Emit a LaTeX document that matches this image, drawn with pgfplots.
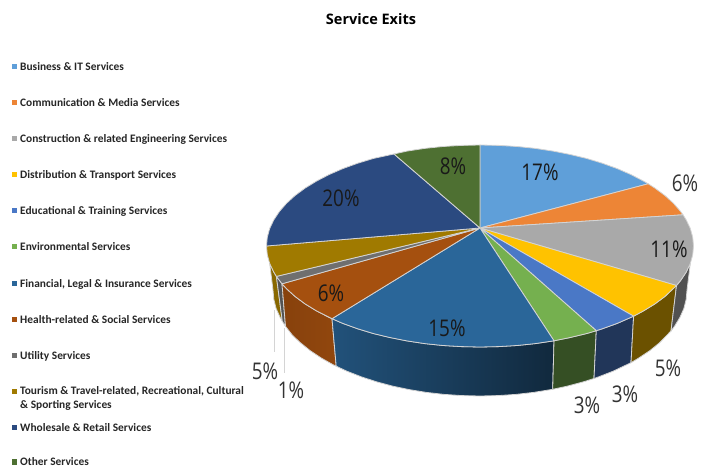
\documentclass[border=0pt]{standalone}
\usepackage{graphicx}
\usepackage{fontspec}
\setmainfont{Open Sans}
\newfontfamily\legfont{Carlito}
\usepackage{pgfplots}
\pgfplotsset{compat=1.18}
\definecolor{cBus}{HTML}{5F9FD9}
\definecolor{cCom}{HTML}{ED8536}
\definecolor{cCon}{HTML}{A9A9A9}
\definecolor{cDis}{HTML}{FFC200}
\definecolor{cEdu}{HTML}{4A78C6}
\definecolor{cEnv}{HTML}{75B04F}
\definecolor{cFin}{HTML}{2A6699}
\definecolor{cHea}{HTML}{A5500F}
\definecolor{cUti}{HTML}{6F6F6F}
\definecolor{cTou}{HTML}{A07A00}
\definecolor{cWho}{HTML}{2B4A80}
\definecolor{cOth}{HTML}{4E7032}
\definecolor{edge}{HTML}{D4D4D4}
\newcommand{\lab}[1]{\scalebox{.82}[1]{\fontsize{23}{23}\selectfont #1}}
\tikzset{leg/.style={inner sep=0pt, text=black!85, align=left, font=\fontsize{11.4}{14.2}\selectfont\legfont\bfseries}}
\begin{document}
\begin{tikzpicture}
\useasboundingbox (0,0) rectangle (713pt,468pt);
\begin{axis}[at={(0,0)}, anchor=south west, hide axis, scale only axis, width=713pt, height=468pt,
  xmin=0, xmax=713, ymin=0, ymax=468, y dir=reverse, clip=false,
  wedge/.style={draw=edge, line width=.8pt, line join=round}]
% leader lines
\addplot[draw=edge, line width=1pt] coordinates {(274,310) (274,352)};
\addplot[draw=edge, line width=1pt] coordinates {(284,328) (284,373)};
% sides
\addplot[wedge, fill=cTou!85!black] coordinates {(269.7,263.5)(273.8,272.1)(276.4,276.4)(282.3,321.2)(280.1,317.4)(276.1,308.4)(273.8,299.2)(273,290)} --cycle;
\addplot[wedge, fill=cUti!75!black] coordinates {(276.4,276.4)(282,283.8)(285.5,326.3)(282.3,321.2)} --cycle;
\addplot[wedge, left color=cHea!82!black, right color=cHea!88!black] coordinates {(282,283.8)(286.5,288.7)(295.1,296.5)(305.1,303.9)(316.5,310.9)(329,317.4)(332,318.7)(336.2,366.2)(333.6,365)(321.4,358.1)(310.4,350.8)(300.7,343)(292.4,335.2)(285.5,326.3)} --cycle;
\addplot[wedge, left color=cFin!80!black, right color=cFin!40!black] coordinates {(332,318.7)(342.8,323.4)(357.5,328.7)(373.2,333.5)(389.8,337.5)(407,340.9)(424.7,343.6)(442.9,345.5)(461.4,346.6)(480,347)(498.6,346.6)(517.1,345.5)(535.3,343.6)(554,340.8)(552.7,389.3)(533.6,392.4)(515.9,394.4)(498,395.6)(480,396)(462,395.6)(444.1,394.4)(426.4,392.4)(409.2,389.6)(392.5,386.1)(376.5,381.8)(361.3,376.8)(346.9,371.2)(336.2,366.2)} --cycle;
\addplot[wedge, fill=cEnv!45!black] coordinates {(554,340.8)(570.2,337.5)(586.8,333.5)(596.3,330.7)(594,378.5)(583.5,381.8)(567.5,386.1)(552.7,389.3)} --cycle;
\addplot[wedge, fill=cEdu!45!black] coordinates {(596.3,330.7)(602.5,328.7)(617.2,323.4)(633.6,316.2)(631,362.7)(613.1,371.2)(598.7,376.8)(594,378.5)} --cycle;
\addplot[wedge, fill=cDis!42!black] coordinates {(633.6,316.2)(643.5,310.9)(654.9,303.9)(664.9,296.5)(676.5,285.5)(671,331)(659.3,343)(649.6,350.8)(638.6,358.1)(631,362.7)} --cycle;
\addplot[wedge, fill=cCon!48!black] coordinates {(676.5,285.5)(680.6,280.5)(686.2,272.1)(690.3,263.5)(687,290)(686.2,299.2)(683.9,308.4)(679.9,317.4)(674.5,326.3)(671,331)} --cycle;
% top faces
\addplot[wedge, fill=cBus] coordinates {(480,228)(480,145)(498.6,145.4)(517.1,146.5)(535.3,148.4)(553,151.1)(570.2,154.5)(586.8,158.5)(602.5,163.3)(617.2,168.6)(631,174.6)(643.5,181.1)(648.2,183.8)} --cycle;
\addplot[wedge, fill=cCom] coordinates {(480,228)(648.2,183.8)(654.9,188.1)(664.9,195.5)(673.5,203.3)(680.6,211.5)(683,214.8)} --cycle;
\addplot[wedge, fill=cCon] coordinates {(480,228)(683,214.8)(686.2,219.9)(690.3,228.5)(692.7,237.2)(693.5,246)(692.7,254.8)(690.3,263.5)(686.2,272.1)(680.6,280.5)(676.5,285.5)} --cycle;
\addplot[wedge, fill=cDis] coordinates {(480,228)(676.5,285.5)(664.9,296.5)(654.9,303.9)(643.5,310.9)(633.6,316.2)} --cycle;
\addplot[wedge, fill=cEdu] coordinates {(480,228)(633.6,316.2)(617.2,323.4)(602.5,328.7)(596.3,330.7)} --cycle;
\addplot[wedge, fill=cEnv] coordinates {(480,228)(596.3,330.7)(586.8,333.5)(570.2,337.5)(554,340.8)} --cycle;
\addplot[wedge, fill=cFin] coordinates {(480,228)(554,340.8)(535.3,343.6)(517.1,345.5)(498.6,346.6)(480,347)(461.4,346.6)(442.9,345.5)(424.7,343.6)(407,340.9)(389.8,337.5)(373.2,333.5)(357.5,328.7)(342.8,323.4)(332,318.7)} --cycle;
\addplot[wedge, fill=cHea] coordinates {(480,228)(332,318.7)(316.5,310.9)(305.1,303.9)(295.1,296.5)(286.5,288.7)(282,283.8)} --cycle;
\addplot[wedge, fill=cUti] coordinates {(480,228)(282,283.8)(276.4,276.4)} --cycle;
\addplot[wedge, fill=cTou] coordinates {(480,228)(276.4,276.4)(273.8,272.1)(269.7,263.5)(267.3,254.8)(266.5,246)} --cycle;
\addplot[wedge, fill=cWho] coordinates {(480,228)(266.5,246)(267.3,237.2)(269.7,228.5)(273.8,219.9)(279.4,211.5)(286.5,203.3)(295.1,195.5)(305.1,188.1)(316.5,181.1)(329,174.6)(342.8,168.6)(357.5,163.3)(373.2,158.5)(394,154)} --cycle;
\addplot[wedge, fill=cOth] coordinates {(480,228)(394,154)(407,151.1)(424.7,148.4)(442.9,146.5)(461.4,145.4)(480,145)} --cycle;
% legend marks
\addplot[only marks, mark=square*, mark size=2.2pt, cBus, mark options={fill=cBus,draw=none}] coordinates {(14,66)};
\addplot[only marks, mark=square*, mark size=2.2pt, cCom, mark options={fill=cCom,draw=none}] coordinates {(14,102)};
\addplot[only marks, mark=square*, mark size=2.2pt, cCon, mark options={fill=cCon,draw=none}] coordinates {(14,138)};
\addplot[only marks, mark=square*, mark size=2.2pt, cDis, mark options={fill=cDis,draw=none}] coordinates {(14,174)};
\addplot[only marks, mark=square*, mark size=2.2pt, cEdu, mark options={fill=cEdu,draw=none}] coordinates {(14,210)};
\addplot[only marks, mark=square*, mark size=2.2pt, cEnv, mark options={fill=cEnv,draw=none}] coordinates {(14,246)};
\addplot[only marks, mark=square*, mark size=2.2pt, cFin, mark options={fill=cFin,draw=none}] coordinates {(14,283)};
\addplot[only marks, mark=square*, mark size=2.2pt, cHea, mark options={fill=cHea,draw=none}] coordinates {(14,319)};
\addplot[only marks, mark=square*, mark size=2.2pt, cUti, mark options={fill=cUti,draw=none}] coordinates {(14,355)};
\addplot[only marks, mark=square*, mark size=2.2pt, cTou, mark options={fill=cTou,draw=none}] coordinates {(14,391)};
\addplot[only marks, mark=square*, mark size=2.2pt, cWho, mark options={fill=cWho,draw=none}] coordinates {(14,427)};
\addplot[only marks, mark=square*, mark size=2.2pt, cOth, mark options={fill=cOth,draw=none}] coordinates {(14,461.5)};
% title
\node[font=\bfseries\fontsize{14.5}{16}\selectfont, inner sep=0pt] at (axis cs:371,19) {Service Exits};
% data labels
\node[inner sep=0pt, text=black!90] at (axis cs:540,172) {\lab{17\%}};
\node[inner sep=0pt, text=black!80] at (axis cs:685,183) {\lab{6\%}};
\node[inner sep=0pt, text=black!90] at (axis cs:669,249) {\lab{11\%}};
\node[inner sep=0pt, text=black!80] at (axis cs:668,368) {\lab{5\%}};
\node[inner sep=0pt, text=black!80] at (axis cs:625,394) {\lab{3\%}};
\node[inner sep=0pt, text=black!80] at (axis cs:587,405) {\lab{3\%}};
\node[inner sep=0pt, text=black!90] at (axis cs:447,328) {\lab{15\%}};
\node[inner sep=0pt, text=black!90] at (axis cs:331,293) {\lab{6\%}};
\node[inner sep=0pt, text=black!80] at (axis cs:291,390) {\lab{1\%}};
\node[inner sep=0pt, text=black!80] at (axis cs:265,371) {\lab{5\%}};
\node[inner sep=0pt, text=black!90] at (axis cs:341,198) {\lab{20\%}};
\node[inner sep=0pt, text=black!90] at (axis cs:453,166) {\lab{8\%}};
% legend labels
\node[leg, anchor=west] at (axis cs:20,67) {Business \& IT Services};
\node[leg, anchor=west] at (axis cs:20,103) {Communication \& Media Services};
\node[leg, anchor=west] at (axis cs:20,139) {Construction \& related Engineering Services};
\node[leg, anchor=west] at (axis cs:20,175) {Distribution \& Transport Services};
\node[leg, anchor=west] at (axis cs:20,211) {Educational \& Training Services};
\node[leg, anchor=west] at (axis cs:20,247) {Environmental Services};
\node[leg, anchor=west] at (axis cs:20,284) {Financial, Legal \& Insurance Services};
\node[leg, anchor=west] at (axis cs:20,320) {Health-related \& Social Services};
\node[leg, anchor=west] at (axis cs:20,356) {Utility Services};
\node[leg, anchor=north west] at (axis cs:20,386) {Tourism \& Travel-related, Recreational, Cultural\\\& Sporting Services};
\node[leg, anchor=west] at (axis cs:20,428) {Wholesale \& Retail Services};
\node[leg, anchor=west] at (axis cs:20,461.5) {Other Services};
\end{axis}
\end{tikzpicture}
\end{document}
